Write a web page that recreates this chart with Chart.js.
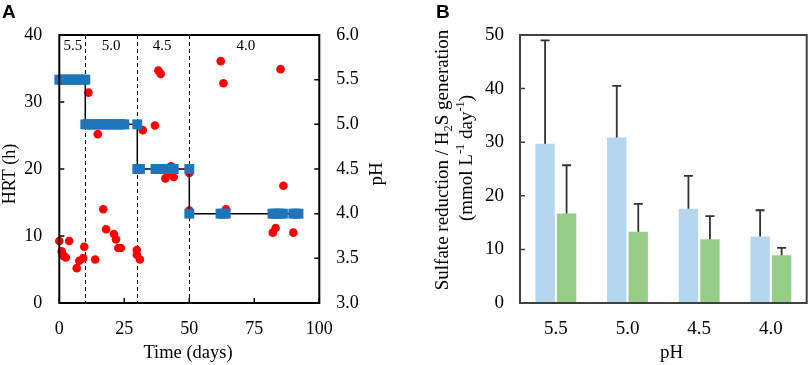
<!DOCTYPE html>
<html><head><meta charset="utf-8">
<script src="https://cdn.jsdelivr.net/npm/chart.js@4.4.0/dist/chart.umd.min.js"></script>
<style>
html,body{margin:0;padding:0;background:#fff;}
#wrap{position:relative;width:809px;height:365px;overflow:hidden;}
#ca{position:absolute;left:0;top:0;}
#cb{position:absolute;left:405px;top:0;}
</style></head><body>
<div id="wrap"><canvas id="ca" width="405" height="365"></canvas><canvas id="cb" width="404" height="365"></canvas></div>
<script>
// ---------- Panel A data ----------
const phDays   = [0,1,2,3,4,5,6,7,8,9,10, 10,11,12,13,14,15,16,17,18,19,20,21,22,23,24,25,30, 30,31,37,38,39,40,41,42,43,44,50, 50,62,63,64,82,83,84,85,86,90,91,92];
const phValues = [5.5,5.5,5.5,5.5,5.5,5.5,5.5,5.5,5.5,5.5,5.5, 5.0,5.0,5.0,5.0,5.0,5.0,5.0,5.0,5.0,5.0,5.0,5.0,5.0,5.0,5.0,5.0,5.0, 4.5,4.5,4.5,4.5,4.5,4.5,4.5,4.5,4.5,4.5,4.5, 4.0,4.0,4.0,4.0,4.0,4.0,4.0,4.0,4.0,4.0,4.0,4.0];
const hrtDays  = [0,0.9,1.8,2.5,3.8,6.7,7.7,9.2,9.6,11.2,13.8,14.8,16.9,18,21,21.8,22.7,23.7,29.8,29.8,31,32.1,36.8,38.1,39,40.8,42,43,44,50,50,62.1,63.1,64.1,82.1,83.2,85.1,86.2,90];
const hrtValues= [9.25,7.7,7.0,6.8,9.25,5.2,6.3,6.7,8.4,31.4,6.5,25.2,14.0,11.0,10.3,9.5,8.2,8.2,7.9,7.2,6.5,25.8,26.5,34.7,34.2,18.6,19.5,20.4,18.8,19.4,13.8,36.1,32.8,14.0,10.5,11.2,34.9,17.5,10.5];
const phChangeDays = [10,30,50];
const phPeriodLabels = ['5.5','5.0','4.5','4.0'];
const phPeriodLabelDays = [5.2,19.9,39.5,71.8];
const xTicksA = [0,25,50,75,100];
const hrtTicks = [0,10,20,30,40];
const phTicks = [3.0,3.5,4.0,4.5,5.0,5.5,6.0];

// ---------- Panel B data ----------
const phCategories = ['5.5','5.0','4.5','4.0'];
const sulfateReduction = [29.7,30.9,17.6,12.4];
const sulfateReductionErr = [19.3,9.6,6.1,4.9];
const h2sGeneration = [16.7,13.3,11.9,8.9];
const h2sGenerationErr = [9.0,5.2,4.3,1.4];
const rateTicks = [0,10,20,30,40,50];

const SERIF = "'Liberation Serif','Times New Roman',serif";
const SANS = "'Liberation Sans',Arial,sans-serif";
Chart.defaults.font.family = SERIF;
Chart.defaults.color = '#000';
Chart.defaults.animation = false;

function drawRich(ctx, segs, cx, cy, rot, size, family, weight) {
  ctx.save();
  ctx.translate(cx, cy); ctx.rotate(rot);
  const small = size * 0.65;
  const fontOf = s => (weight ? weight + ' ' : '') + ((s.sub || s.sup) ? small : size) + 'px ' + family;
  let total = 0;
  const ws = segs.map(s => { ctx.font = fontOf(s); const w = ctx.measureText(s.t).width; total += w; return w; });
  let x = -total / 2;
  ctx.textBaseline = 'middle'; ctx.textAlign = 'left'; ctx.fillStyle = '#000';
  segs.forEach((s, i) => {
    ctx.font = fontOf(s);
    const dy = s.sub ? size * 0.28 : (s.sup ? -size * 0.3 : 0);
    ctx.fillText(s.t, x, dy);
    x += ws[i];
  });
  ctx.restore();
}

const noGrid = {display: false, drawTicks: false, tickLength: 0};

const decorA = {
  id: 'decorA',
  beforeDatasetsDraw(chart) {
    const {ctx, chartArea: a, scales} = chart;
    ctx.save();
    ctx.strokeStyle = '#000'; ctx.lineWidth = 1; ctx.setLineDash([4, 3]);
    phChangeDays.forEach(d => {
      const x = Math.round(scales.x.getPixelForValue(d)) + 0.5;
      ctx.beginPath(); ctx.moveTo(x, a.top); ctx.lineTo(x, a.bottom); ctx.stroke();
    });
    ctx.setLineDash([]);
    ctx.font = '15px ' + SERIF; ctx.fillStyle = '#000'; ctx.textAlign = 'center'; ctx.textBaseline = 'middle';
    phPeriodLabels.forEach((t, i) => ctx.fillText(t, scales.x.getPixelForValue(phPeriodLabelDays[i]), a.top + 11));
    ctx.restore();
  },
  afterDraw(chart) {
    const {ctx, chartArea: a, scales} = chart;
    ctx.save();
    ctx.strokeStyle = '#000'; ctx.lineWidth = 2;
    ctx.strokeRect(a.left, a.top, a.right - a.left, a.bottom - a.top);
    ctx.lineWidth = 1.5;
    const L = 5;
    ctx.beginPath();
    xTicksA.forEach(v => { const x = scales.x.getPixelForValue(v); ctx.moveTo(x, a.bottom); ctx.lineTo(x, a.bottom - L); });
    hrtTicks.forEach(v => { const y = scales.y.getPixelForValue(v); ctx.moveTo(a.left, y); ctx.lineTo(a.left + L, y); });
    phTicks.forEach(v => { const y = scales.y2.getPixelForValue(v); ctx.moveTo(a.right, y); ctx.lineTo(a.right - L, y); });
    ctx.stroke();
    drawRich(ctx, [{t: 'HRT (h)'}], 10, 174, -Math.PI / 2, 18, SERIF);
    drawRich(ctx, [{t: 'pH'}], 377, 174, -Math.PI / 2, 19, SERIF);
    drawRich(ctx, [{t: 'Time (days)'}], 188, 353, 0, 18.5, SERIF);
    ctx.font = 'bold 19px ' + SANS; ctx.textAlign = 'left'; ctx.textBaseline = 'top'; ctx.fillStyle = '#000';
    ctx.fillText('A', 2, 3);
    ctx.restore();
  }
};

new Chart(document.getElementById('ca'), {
  type: 'scatter',
  data: {
    datasets: [
      {
        label: 'pH', order: 0, yAxisID: 'y2', clip: false,
        data: phDays.map((d, i) => ({x: d, y: phValues[i]})),
        showLine: true, borderColor: '#000', borderWidth: 1.5,
        pointStyle: 'rect', pointRadius: 7, pointHoverRadius: 7,
        pointBackgroundColor: 'rgb(31,117,186)', pointBorderColor: 'rgb(31,117,186)', pointBorderWidth: 0
      },
      {
        label: 'HRT', order: 1, yAxisID: 'y', clip: false,
        data: hrtDays.map((d, i) => ({x: d, y: hrtValues[i]})),
        showLine: false, pointStyle: 'circle', pointRadius: 4.3, pointHoverRadius: 4.3,
        pointBackgroundColor: '#ff0000', pointBorderColor: '#ff0000', pointBorderWidth: 0
      }
    ]
  },
  options: {
    responsive: false, animation: false,
    layout: {padding: {top: 35, left: 0, right: 0, bottom: 0}},
    plugins: {legend: {display: false}, tooltip: {enabled: false}},
    scales: {
      x: {
        type: 'linear', min: 0, max: 100,
        afterBuildTicks: s => { s.ticks = xTicksA.map(v => ({value: v})); },
        ticks: {font: {size: 18, family: SERIF}, padding: 15, maxRotation: 0},
        grid: noGrid, border: {display: false},
        afterFit: s => { s.height = 62; }
      },
      y: {
        position: 'left', min: 0, max: 40,
        afterBuildTicks: s => { s.ticks = hrtTicks.map(v => ({value: v})); },
        ticks: {font: {size: 18, family: SERIF}, padding: 17},
        grid: noGrid, border: {display: false},
        afterFit: s => { s.width = 59.3; }
      },
      y2: {
        position: 'right', min: 3, max: 6,
        afterBuildTicks: s => { s.ticks = phTicks.map(v => ({value: v})); },
        ticks: {font: {size: 18, family: SERIF}, padding: 17, callback: v => Number(v).toFixed(1)},
        grid: noGrid, border: {display: false},
        afterFit: s => { s.width = 85.7; }
      }
    }
  },
  plugins: [decorA]
});

const decorB = {
  id: 'decorB',
  afterDatasetsDraw(chart) {
    const {ctx, scales} = chart;
    const errs = [sulfateReductionErr, h2sGenerationErr];
    ctx.save();
    ctx.strokeStyle = '#333'; ctx.lineWidth = 1.8;
    chart.data.datasets.forEach((ds, di) => {
      const meta = chart.getDatasetMeta(di);
      meta.data.forEach((bar, i) => {
        const top = scales.y.getPixelForValue(ds.data[i] + errs[di][i]);
        ctx.beginPath();
        ctx.moveTo(bar.x, bar.y); ctx.lineTo(bar.x, top);
        ctx.moveTo(bar.x - 4.5, top); ctx.lineTo(bar.x + 4.5, top);
        ctx.stroke();
      });
    });
    ctx.restore();
  },
  afterDraw(chart) {
    const {ctx, chartArea: a, scales} = chart;
    ctx.save();
    ctx.strokeStyle = '#404040'; ctx.lineWidth = 2;
    ctx.strokeRect(a.left, a.top, a.right - a.left, a.bottom - a.top);
    ctx.lineWidth = 1.5;
    ctx.beginPath();
    rateTicks.forEach(v => { const y = scales.y.getPixelForValue(v); ctx.moveTo(a.left, y); ctx.lineTo(a.left + 5, y); });
    ctx.stroke();
    drawRich(ctx, [{t: 'Sulfate reduction / H'}, {t: '2', sub: true}, {t: 'S generation'}], 38, 160, -Math.PI / 2, 19, SERIF);
    drawRich(ctx, [{t: '(mmol L'}, {t: '-1', sup: true}, {t: ' day'}, {t: '-1', sup: true}, {t: ')'}], 61.7, 158, -Math.PI / 2, 19, SERIF);
    drawRich(ctx, [{t: 'pH'}], 266.5, 353, 0, 19, SERIF);
    ctx.font = 'bold 19px ' + SANS; ctx.textAlign = 'left'; ctx.textBaseline = 'top'; ctx.fillStyle = '#000';
    ctx.fillText('B', 31, 3);
    ctx.restore();
  }
};

new Chart(document.getElementById('cb'), {
  type: 'bar',
  data: {
    labels: phCategories,
    datasets: [
      {label: 'Sulfate reduction', data: sulfateReduction, backgroundColor: '#b4d6ee', borderWidth: 0, categoryPercentage: 0.6, barPercentage: 0.9},
      {label: 'H2S generation', data: h2sGeneration, backgroundColor: '#95cf87', borderWidth: 0, categoryPercentage: 0.6, barPercentage: 0.9}
    ]
  },
  options: {
    responsive: false, animation: false,
    layout: {padding: {top: 35, left: 0, right: 2.3, bottom: 0}},
    plugins: {legend: {display: false}, tooltip: {enabled: false}},
    scales: {
      x: {
        ticks: {font: {size: 19, family: SERIF}, padding: 15},
        grid: noGrid, border: {display: false},
        afterFit: s => { s.height = 62; }
      },
      y: {
        min: 0, max: 50,
        afterBuildTicks: s => { s.ticks = rateTicks.map(v => ({value: v})); },
        ticks: {font: {size: 19, family: SERIF}, padding: 16},
        grid: noGrid, border: {display: false},
        afterFit: s => { s.width = 115; }
      }
    }
  },
  plugins: [decorB]
});
</script>
</body></html>
